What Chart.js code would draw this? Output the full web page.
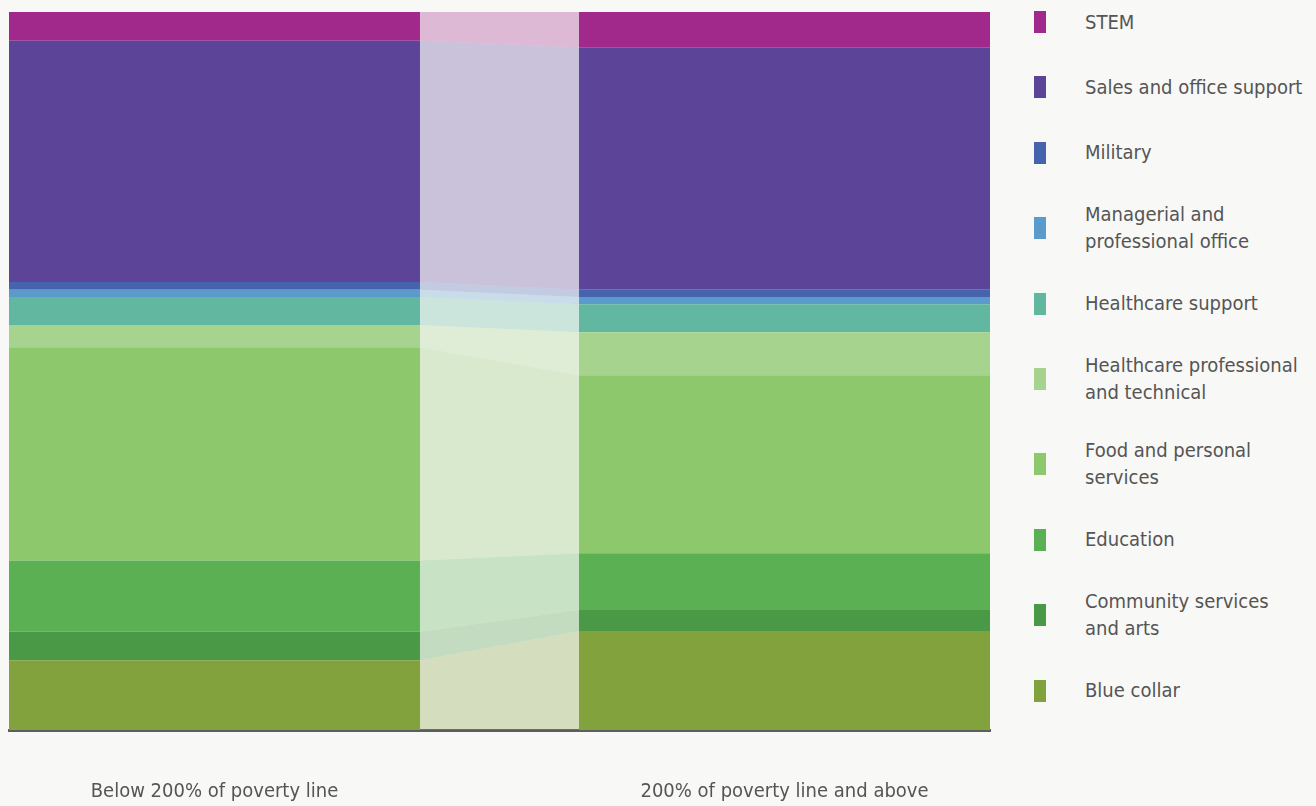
<!DOCTYPE html>
<html>
<head>
<meta charset="utf-8">
<script src="https://cdn.jsdelivr.net/npm/chart.js@4.4.1/dist/chart.umd.min.js"></script>
<style>
  html, body { margin: 0; padding: 0; background: #f8f8f6; }
  body { width: 1316px; height: 806px; position: relative; overflow: hidden;
         font-family: 'Liberation Sans Narrow', 'Arial Narrow', 'DejaVu Sans Condensed', Roboto, sans-serif; }
  #wrap { position: absolute; left: 0; top: 0; width: 1000px; height: 854px; }
  #legend { position: absolute; left: 1034px; top: 5px; width: 282px; list-style: none; margin: 0; padding: 0; }
  #legend li { display: flex; align-items: center; min-height: 34px; margin-bottom: 31.4px; }
  #legend .sw { width: 12px; height: 22px; flex: none; margin-right: 39px; }
  #legend .tx { font-size: 20px; line-height: 27px; color: #555; }
</style>
</head>
<body>
<div id="wrap"><canvas id="chart"></canvas></div>
<ul id="legend"></ul>
<script>
// groups on the x axis, occupations listed top to bottom as in the legend
const groups = ['Below 200% of poverty line', '200% of poverty line and above'];
const occupations = ['STEM', 'Sales and office support', 'Military', 'Managerial and\nprofessional office',
  'Healthcare support', 'Healthcare professional\nand technical', 'Food and personal\nservices',
  'Education', 'Community services\nand arts', 'Blue collar'];
const belowPoverty = [4.0, 33.6, 1.1, 1.0, 3.9, 3.1, 29.7, 9.9, 4.0, 9.7];
const abovePoverty = [4.9, 33.8, 1.0, 1.0, 3.9, 6.0, 24.8, 7.9, 2.9, 13.8];
const colors = ['#a0298b', '#5c4599', '#4663ae', '#5a9bcb', '#62b7a0',
  '#a6d48f', '#8dc86c', '#5bb053', '#4a9946', '#82a23d'];

const font = { family: "'Liberation Sans Narrow', 'Arial Narrow', 'DejaVu Sans Condensed', Roboto, sans-serif", size: 20 };

function fade(hex, a) {
  const n = parseInt(hex.slice(1), 16);
  return `rgba(${n >> 16}, ${(n >> 8) & 255}, ${n & 255}, ${a})`;
}

// first dataset sits at the bottom of the stack, so build them in reverse
const datasets = occupations.map((name, i) => ({
  label: name,
  data: [{ x: 0, y: belowPoverty[i] }, { x: 1, y: abovePoverty[i] }],
  backgroundColor: colors[i],
  barPercentage: 0.721,
  categoryPercentage: 1
})).reverse();

// translucent bands joining the same segment of both bars
const connectors = {
  id: 'connectors',
  beforeDatasetsDraw(chart) {
    const ctx = chart.ctx;
    chart.data.datasets.forEach((ds, i) => {
      const meta = chart.getDatasetMeta(i);
      const a = meta.data[0].getProps(['x', 'y', 'base', 'width'], true);
      const b = meta.data[1].getProps(['x', 'y', 'base', 'width'], true);
      const x0 = a.x + a.width / 2, x1 = b.x - b.width / 2;
      ctx.save();
      ctx.fillStyle = fade(ds.backgroundColor, 0.3);
      ctx.beginPath();
      ctx.moveTo(x0, a.y);
      ctx.lineTo(x1, b.y);
      ctx.lineTo(x1, b.base);
      ctx.lineTo(x0, a.base);
      ctx.closePath();
      ctx.fill();
      ctx.restore();
    });
  }
};

new Chart(document.getElementById('chart'), {
  type: 'bar',
  data: { datasets },
  options: {
    responsive: true,
    maintainAspectRatio: false,
    animation: false,
    layout: { padding: { left: 9, right: 10, top: 12, bottom: 0 } },
    plugins: { legend: { display: false }, tooltip: { enabled: false } },
    scales: {
      x: {
        type: 'linear',
        stacked: true,
        offset: false,
        z: 1,
        min: -0.3605,
        max: 1.3605,
        afterBuildTicks: s => { s.ticks = groups.map((g, i) => ({ value: i })); },
        ticks: { callback: v => groups[v], font, color: '#555', padding: 50, autoSkip: false, maxRotation: 0 },
        grid: { drawOnChartArea: false, drawTicks: false, color: 'rgba(0,0,0,0)' },
        border: { display: true, color: '#5e5e5e', width: 3 }
      },
      y: { stacked: true, min: 0, max: 100, display: false }
    }
  },
  plugins: [connectors]
});

document.getElementById('legend').innerHTML = occupations.map((name, i) => `
  <li><span class="sw" style="background:${colors[i]}"></span><span class="tx">${name.replace('\n', '<br>')}</span></li>
`).join('');
</script>
</body>
</html>
